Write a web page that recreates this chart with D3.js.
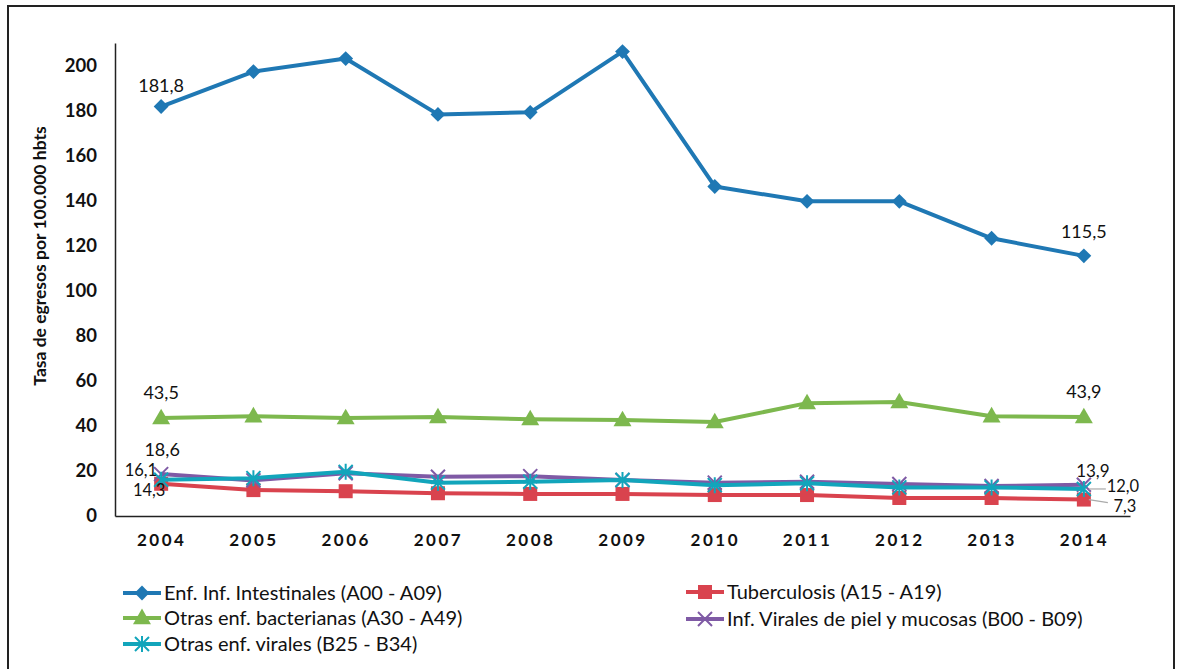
<!DOCTYPE html>
<html><head><meta charset="utf-8">
<script src="https://cdn.jsdelivr.net/npm/d3@7"></script>
<style>
body{margin:0;background:#fff;}
svg{display:block;font-family:Lato,"Open Sans",sans-serif;}
</style></head>
<body><svg id="c" width="1179" height="669"></svg>
<script>
const years = ["2004","2005","2006","2007","2008","2009","2010","2011","2012","2013","2014"];
const intestinales = [181.8,197.3,203.1,178.3,179.2,206.2,146.3,139.7,139.7,123.3,115.5];
const tuberculosis = [14.3,11.5,11.0,10.1,9.8,9.8,9.3,9.3,8.0,8.0,7.3];
const bacterianas = [43.5,44.3,43.5,43.9,43.0,42.6,41.7,50.1,50.6,44.3,43.9];
const viralesPiel = [18.6,15.8,19.0,17.4,17.7,16.0,14.8,15.2,14.2,13.3,13.9];
const otrasVirales = [16.1,16.8,19.6,14.8,15.2,16.0,13.7,14.5,12.7,12.7,12.0];
const yTicks = [0,20,40,60,80,100,120,140,160,180,200];
const seriesNames = ["Enf. Inf. Intestinales (A00 - A09)","Tuberculosis (A15 - A19)","Otras enf. bacterianas (A30 - A49)","Inf. Virales de piel y mucosas (B00 - B09)","Otras enf. virales (B25 - B34)"];
const yTitle = "Tasa de egresos por 100.000 hbts";

const series = [
  {name:seriesNames[0], values:intestinales, color:"#1f78b4", marker:"diamond"},
  {name:seriesNames[1], values:tuberculosis, color:"#d9434e", marker:"square"},
  {name:seriesNames[2], values:bacterianas, color:"#7db84e", marker:"triangle"},
  {name:seriesNames[3], values:viralesPiel, color:"#7f5aa5", marker:"cross"},
  {name:seriesNames[4], values:otrasVirales, color:"#12a5bb", marker:"star"}
];
const drawOrder = [2,0,1,3,4];

const svg = d3.select("#c");
svg.append("rect").attr("x",8).attr("y",6).attr("width",1166).attr("height",680)
  .attr("fill","none").attr("stroke","#222").attr("stroke-width",2);

const x = d3.scalePoint().domain(years).range([115,1130]).padding(0.5);
const y = d3.scaleLinear().domain([0,210]).range([516,43]);

const yAxis = svg.append("g").attr("transform","translate(115,0)")
  .call(d3.axisLeft(y).tickValues(yTicks).tickSize(0).tickPadding(18).tickFormat(d3.format("d")));
yAxis.select(".domain").attr("stroke","#222").attr("stroke-width",1.5);
yAxis.selectAll("text").attr("font-size",18.5).attr("font-weight","bold").attr("fill","#111")
  .attr("font-family","Lato,sans-serif");

const xAxis = svg.append("g").attr("transform","translate(0,516)")
  .call(d3.axisBottom(x).tickSize(0).tickPadding(18));
xAxis.select(".domain").attr("stroke","#222").attr("stroke-width",1.5);
xAxis.selectAll("text").attr("font-size",17).attr("font-weight","bold").attr("fill","#111")
  .attr("letter-spacing","2.5px").attr("font-family","Lato,sans-serif");

svg.append("text").attr("transform","translate(46,256) rotate(-90)")
  .attr("text-anchor","middle").attr("font-size",17.5).attr("font-weight","bold").attr("fill","#111")
  .text(yTitle);

function drawMarker(g, type, cx, cy, color){
  if(type==="diamond"){
    g.append("path").attr("d",d3.symbol(d3.symbolDiamond2, 140)()).attr("transform",`translate(${cx},${cy})`)
     .attr("fill",color);
  } else if(type==="square"){
    g.append("rect").attr("x",cx-7).attr("y",cy-7).attr("width",14).attr("height",14).attr("fill",color);
  } else if(type==="triangle"){
    g.append("path").attr("d",d3.symbol(d3.symbolTriangle, 140)()).attr("transform",`translate(${cx},${cy+1})`)
     .attr("fill",color);
  } else if(type==="cross"){
    const s=7;
    g.append("path").attr("d",`M${cx-s},${cy-s}L${cx+s},${cy+s}M${cx-s},${cy+s}L${cx+s},${cy-s}`)
     .attr("stroke",color).attr("stroke-width",2).attr("fill","none");
  } else if(type==="star"){
    const s=7;
    g.append("path").attr("d",`M${cx-s},${cy-s}L${cx+s},${cy+s}M${cx-s},${cy+s}L${cx+s},${cy-s}M${cx},${cy-s-1}L${cx},${cy+s+1}`)
     .attr("stroke",color).attr("stroke-width",2).attr("fill","none");
  }
}

const line = d3.line().x((d,i)=>x(years[i])).y(d=>y(d));
drawOrder.forEach(k=>{
  const s = series[k];
  const g = svg.append("g");
  g.append("path").datum(s.values).attr("d",line).attr("fill","none")
    .attr("stroke",s.color).attr("stroke-width",4).attr("stroke-linejoin","round");
  s.values.forEach((v,i)=>drawMarker(g, s.marker, x(years[i]), y(v), s.color));
});

const fmt = v => d3.format(".1f")(v).replace(".",",");
const labels = [
  {s:0,i:0,dx:0,dy:-15,anchor:"middle",fs:18},
  {s:0,i:10,dx:0,dy:-18,anchor:"middle",fs:18},
  {s:2,i:0,dx:0,dy:-19,anchor:"middle",fs:18},
  {s:2,i:10,dx:0,dy:-19,anchor:"middle",fs:18},
  {s:3,i:0,dx:1,dy:-18,anchor:"middle",fs:18},
  {s:4,i:0,dx:-4,dy:-4,anchor:"end",fs:16.5},
  {s:1,i:0,dx:-12,dy:12,anchor:"middle",fs:16.5},
  {s:3,i:10,dx:9,dy:-8,anchor:"middle",fs:17},
  {s:4,i:10,dx:39,dy:3,anchor:"middle",fs:16.5},
  {s:1,i:10,dx:41,dy:12,anchor:"middle",fs:16.5}
];
const lg = svg.append("g");
[{s:4,i:10,x2:22,dy2:0},{s:1,i:10,x2:24,dy2:3}].forEach(l=>{
  const px = x(years[l.i]), py = y(series[l.s].values[l.i]);
  lg.append("line").attr("x1",px+5).attr("y1",py).attr("x2",px+l.x2).attr("y2",py+l.dy2)
    .attr("stroke","#aaa").attr("stroke-width",1.2);
});
labels.forEach(l=>{
  const v = series[l.s].values[l.i];
  lg.append("text").attr("x",x(years[l.i])+l.dx).attr("y",y(v)+l.dy)
    .attr("text-anchor",l.anchor).attr("font-size",l.fs).attr("fill","#111")
    .text(fmt(v));
});

const legendPos = [
  {k:0,x:123,y:593},{k:1,x:686,y:592},{k:2,x:123,y:618},{k:3,x:686,y:619},{k:4,x:123,y:644}
];
const leg = svg.append("g");
legendPos.forEach(p=>{
  const s = series[p.k];
  leg.append("line").attr("x1",p.x).attr("x2",p.x+38).attr("y1",p.y).attr("y2",p.y)
    .attr("stroke",s.color).attr("stroke-width",4);
  drawMarker(leg, s.marker, p.x+19, p.y, s.color);
  leg.append("text").attr("x",p.x+41).attr("y",p.y+7).attr("font-size",20).attr("fill","#111")
    .text(s.name);
});
</script></body></html>
